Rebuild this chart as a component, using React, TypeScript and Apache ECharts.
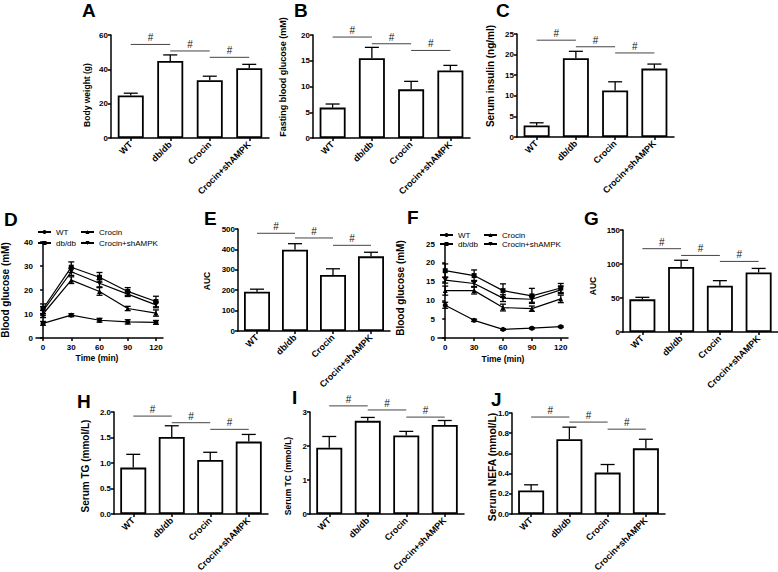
import React, { useEffect, useRef } from 'react';
import * as echarts from 'echarts';

const FONT = "'Liberation Sans', Arial, Helvetica, sans-serif";

const groups = ['WT', 'db/db', 'Crocin', 'Crocin+shAMPK'];
const times = [0, 30, 60, 90, 120];

// A: body weight
const bodyWeight = [24.8, 44.9, 33.7, 40.6];
const bodyWeightErr = [1.3, 3.5, 2.3, 2.3];
const bodyWeightSig = [54.5, 50.7, 47.0];
// B: fasting blood glucose
const fastingGlucose = [5.9, 15.5, 9.45, 13.1];
const fastingGlucoseErr = [0.7, 2.1, 1.55, 1.0];
const fastingGlucoseSig = [19.6, 18.3, 17.0];
// C: serum insulin
const serumInsulin = [2.8, 19.1, 11.3, 16.6];
const serumInsulinErr = [0.65, 1.7, 2.1, 1.1];
const serumInsulinSig = [23.5, 21.9, 20.4];
// D: GTT
const gttWT = [6.1, 9.5, 7.4, 6.7, 6.5];
const gttWTErr = [0.8, 0.6, 0.8, 0.9, 0.8];
const gttDb = [12.2, 29.5, 25.3, 19.4, 15.2];
const gttDbErr = [2.0, 2.2, 2.0, 1.6, 2.2];
const gttCrocin = [10.0, 24.1, 19.4, 12.3, 10.4];
const gttCrocinErr = [1.5, 1.4, 1.6, 0.9, 1.3];
const gttSh = [11.3, 27.6, 22.8, 18.3, 13.8];
const gttShErr = [1.8, 1.5, 1.5, 1.0, 1.2];
// E: GTT AUC
const gttAuc = [193, 398, 275, 366];
const gttAucErr = [12, 30, 30, 20];
const gttAucSig = [479, 456, 420];
// F: ITT
const ittWT = [8.7, 4.7, 2.3, 2.6, 3.0];
const ittWTErr = [0.8, 0.3, 0.2, 0.2, 0.2];
const ittDb = [17.9, 16.6, 12.6, 11.2, 13.3];
const ittDbErr = [1.8, 1.5, 1.8, 2.0, 1.2];
const ittCrocin = [12.6, 12.6, 8.1, 7.8, 10.4];
const ittCrocinErr = [1.2, 0.9, 0.9, 0.7, 1.0];
const ittSh = [15.4, 14.5, 10.6, 10.3, 12.8];
const ittShErr = [0.8, 0.8, 0.9, 0.8, 1.0];
// G: ITT AUC
const ittAuc = [48, 95.5, 68, 87.5];
const ittAucErr = [3, 10, 7.5, 6];
const ittAucSig = [122.5, 112.6, 103.8];
// H: serum TG
const serumTG = [0.91, 1.51, 1.06, 1.42];
const serumTGErr = [0.26, 0.22, 0.15, 0.14];
const serumTGSig = [1.92, 1.79, 1.66];
// I: serum TC
const serumTC = [1.95, 2.74, 2.31, 2.62];
const serumTCErr = [0.33, 0.1, 0.12, 0.13];
const serumTCSig = [3.18, 3.06, 2.85];
// J: serum NEFA
const serumNEFA = [0.233, 0.74, 0.41, 0.65];
const serumNEFAErr = [0.056, 0.12, 0.08, 0.09];
const serumNEFASig = [0.96, 0.91, 0.84];

const symbols: Record<string, string> = {
  WT: 'circle',
  'db/db': 'rect',
  Crocin: 'triangle',
  'Crocin+shAMPK': 'path://M0,0L10,0L5,9Z',
};

const axisLineStyle = { show: true, lineStyle: { color: '#000', width: 1.5 } };
const axisTickStyle = { show: true, length: 3, lineStyle: { color: '#000', width: 1.5 } };
const tickLabel = { color: '#000', fontFamily: FONT, fontWeight: 'bold', fontSize: 8, margin: 3 };

const errRender = (capHalf: number, both: boolean) => (params: any, api: any) => {
  const x = api.value(0);
  const y = api.value(1);
  const e = api.value(2);
  const top = api.coord([x, y + e]);
  const bot = api.coord([x, both ? y - e : y]);
  const style = { stroke: '#000', lineWidth: 1.3 };
  const children: any[] = [
    { type: 'line', shape: { x1: top[0], y1: top[1], x2: bot[0], y2: bot[1] }, style },
    { type: 'line', shape: { x1: top[0] - capHalf, y1: top[1], x2: top[0] + capHalf, y2: top[1] }, style },
  ];
  if (both) {
    children.push({ type: 'line', shape: { x1: bot[0] - capHalf, y1: bot[1], x2: bot[0] + capHalf, y2: bot[1] }, style });
  }
  return { type: 'group', children };
};

const sigRender = (params: any, api: any) => {
  const i = api.value(0);
  const lv = api.value(1);
  const a = api.coord([i, lv]);
  const b = api.coord([i + 1, lv]);
  return {
    type: 'group',
    children: [
      { type: 'line', shape: { x1: a[0], y1: a[1], x2: b[0], y2: b[1] }, style: { stroke: '#444', lineWidth: 1 } },
      {
        type: 'text',
        x: (a[0] + b[0]) / 2,
        y: a[1] - 1.5,
        style: { text: '#', fill: '#111', fontSize: 10, fontFamily: FONT, align: 'center', verticalAlign: 'bottom' },
      },
    ],
  };
};

function buildOption() {
  const grids: any[] = [];
  const xAxes: any[] = [];
  const yAxes: any[] = [];
  const series: any[] = [];
  const errSeries: any[] = [];

  const addGrid = (g: number[]) => {
    grids.push({ left: g[0], top: g[1], width: g[2], height: g[3], containLabel: false, outerBoundsMode: 'none' });
    return grids.length - 1;
  };

  const addBarPanel = (g: number[], max: number, interval: number, values: number[], errs: number[], sig: number[], dec?: number) => {
    const k = addGrid(g);
    xAxes.push({
      type: 'category',
      gridIndex: k,
      data: groups,
      axisLine: axisLineStyle,
      axisTick: { ...axisTickStyle, alignWithLabel: true },
      axisLabel: { color: '#000', fontFamily: FONT, fontWeight: 'bold', fontSize: 9, rotate: 45, margin: 5, interval: 0 },
      splitLine: { show: false },
    });
    yAxes.push({
      type: 'value',
      gridIndex: k,
      min: 0,
      max,
      interval,
      axisLine: axisLineStyle,
      axisTick: axisTickStyle,
      axisLabel: { ...tickLabel, formatter: dec !== undefined ? (v: number) => v.toFixed(dec) : undefined },
      splitLine: { show: false },
    });
    series.push({
      type: 'bar',
      xAxisIndex: k,
      yAxisIndex: k,
      data: values,
      barWidth: 26,
      itemStyle: { color: '#fff', borderColor: '#000', borderWidth: 1.8 },
      silent: true,
    });
    errSeries.push({
      type: 'custom',
      xAxisIndex: k,
      yAxisIndex: k,
      renderItem: errRender(7, false),
      data: values.map((v, i) => [i, v, errs[i]]),
      encode: { x: 0, y: 1 },
      z: 3,
      silent: true,
    });
    errSeries.push({
      type: 'custom',
      xAxisIndex: k,
      yAxisIndex: k,
      renderItem: sigRender,
      data: sig.map((s, i) => [i, s]),
      encode: { x: 0, y: 1 },
      z: 3,
      silent: true,
    });
  };

  const addLinePanel = (g: number[], max: number, interval: number, lines: { name: string; values: number[]; errs: number[] }[]) => {
    const k = addGrid(g);
    xAxes.push({
      type: 'value',
      gridIndex: k,
      min: -7.5,
      max: 127.5,
      axisLine: axisLineStyle,
      axisTick: { ...axisTickStyle, customValues: times },
      axisLabel: { ...tickLabel, customValues: times, margin: 5 },
      splitLine: { show: false },
    });
    yAxes.push({
      type: 'value',
      gridIndex: k,
      min: 0,
      max,
      interval,
      axisLine: axisLineStyle,
      axisTick: axisTickStyle,
      axisLabel: tickLabel,
      splitLine: { show: false },
    });
    lines.forEach((ln) => {
      series.push({
        type: 'line',
        name: ln.name,
        xAxisIndex: k,
        yAxisIndex: k,
        data: times.map((t, i) => [t, ln.values[i]]),
        symbol: symbols[ln.name],
        symbolSize: 5,
        showSymbol: true,
        color: '#000',
        lineStyle: { color: '#000', width: 1.2 },
        itemStyle: { color: '#000' },
        silent: true,
        z: 3,
      });
      errSeries.push({
        type: 'custom',
        xAxisIndex: k,
        yAxisIndex: k,
        renderItem: errRender(3, true),
        data: times.map((t, i) => [t, ln.values[i], ln.errs[i]]),
        encode: { x: 0, y: 1 },
        silent: true,
        z: 2,
      });
    });
  };

  addBarPanel([111, 35, 158, 103], 60, 20, bodyWeight, bodyWeightErr, bodyWeightSig);
  addBarPanel([313, 35, 157, 103], 20, 5, fastingGlucose, fastingGlucoseErr, fastingGlucoseSig);
  addBarPanel([517, 34, 157, 103], 25, 5, serumInsulin, serumInsulinErr, serumInsulinSig);
  addLinePanel([36, 242, 127, 96], 40, 10, [
    { name: 'WT', values: gttWT, errs: gttWTErr },
    { name: 'db/db', values: gttDb, errs: gttDbErr },
    { name: 'Crocin', values: gttCrocin, errs: gttCrocinErr },
    { name: 'Crocin+shAMPK', values: gttSh, errs: gttShErr },
  ]);
  addBarPanel([238, 229, 152, 102], 500, 100, gttAuc, gttAucErr, gttAucSig);
  addLinePanel([438, 244, 130, 94], 25, 5, [
    { name: 'WT', values: ittWT, errs: ittWTErr },
    { name: 'db/db', values: ittDb, errs: ittDbErr },
    { name: 'Crocin', values: ittCrocin, errs: ittCrocinErr },
    { name: 'Crocin+shAMPK', values: ittSh, errs: ittShErr },
  ]);
  addBarPanel([623, 230, 155, 102], 150, 50, ittAuc, ittAucErr, ittAucSig);
  addBarPanel([114, 412, 154, 102], 2, 0.5, serumTG, serumTGErr, serumTGSig, 1);
  addBarPanel([310, 412, 154, 102], 3, 1, serumTC, serumTCErr, serumTCSig);
  addBarPanel([512, 413, 153, 101], 1, 0.2, serumNEFA, serumNEFAErr, serumNEFASig, 1);

  const legendBase = {
    orient: 'vertical',
    itemWidth: 13,
    itemHeight: 5,
    itemGap: 3,
    selectedMode: false,
    textStyle: { fontSize: 8, color: '#000', fontFamily: FONT },
    padding: 0,
  };
  const legends = [
    { ...legendBase, left: 37, top: 228, data: ['WT', 'db/db'] },
    { ...legendBase, left: 80, top: 228, data: ['Crocin', 'Crocin+shAMPK'] },
    { ...legendBase, left: 439, top: 231, itemGap: 1, data: ['WT', 'db/db'] },
    { ...legendBase, left: 483, top: 231, itemGap: 1, data: ['Crocin', 'Crocin+shAMPK'] },
  ];

  const letter = (t: string, x: number, y: number) => ({
    type: 'text',
    x,
    y,
    style: { text: t, fill: '#000', fontSize: 19, fontWeight: 'bold', fontFamily: FONT, align: 'left', verticalAlign: 'middle' },
  });
  const yName = (t: string, x: number, y: number, size: number) => ({
    type: 'text',
    x,
    y,
    rotation: Math.PI / 2,
    style: { text: t, fill: '#000', fontSize: size, fontWeight: 'bold', fontFamily: FONT, align: 'center', verticalAlign: 'middle' },
  });
  const xName = (t: string, x: number, y: number) => ({
    type: 'text',
    x,
    y,
    style: { text: t, fill: '#000', fontSize: 8.5, fontWeight: 'bold', fontFamily: FONT, align: 'center', verticalAlign: 'middle' },
  });

  const graphic = [
    letter('A', 82, 10),
    letter('B', 294, 10),
    letter('C', 496, 10),
    letter('D', 4, 219),
    letter('E', 204, 218),
    letter('F', 407, 217),
    letter('G', 584, 218),
    letter('H', 77, 401),
    letter('I', 292, 397),
    letter('J', 491, 399),
    yName('Body weight (g)', 87, 95, 8.5),
    yName('Fasting blood glucose (mM)', 283, 77, 9),
    yName('Serum insulin (ng/ml)', 490, 76, 10),
    yName('Blood glucose (mM)', 5, 290, 10),
    yName('AUC', 207, 281, 8.5),
    yName('Blood glucose (mM)', 400, 288, 10),
    yName('AUC', 593, 286, 8.5),
    yName('Serum TG (mmol/L)', 85, 466, 10),
    yName('Serum TC (mmol/L)', 288, 476, 8.5),
    yName('Serum NEFA (mmol/L)', 492, 467, 10.3),
    xName('Time (min)', 97, 358),
    xName('Time (min)', 503, 359),
  ];

  return {
    animation: false,
    backgroundColor: '#fff',
    color: ['#000'],
    grid: grids,
    xAxis: xAxes,
    yAxis: yAxes,
    legend: legends,
    series: [...series, ...errSeries],
    graphic,
  };
}

export default function App() {
  const ref = useRef<HTMLDivElement>(null);
  useEffect(() => {
    if (!ref.current) return;
    const chart = echarts.init(ref.current, undefined, { renderer: 'svg' });
    chart.setOption(buildOption() as any);
    return () => chart.dispose();
  }, []);
  return <div ref={ref} style={{ position: 'fixed', left: 0, top: 0, width: 778, height: 572, background: '#fff' }} />;
}
